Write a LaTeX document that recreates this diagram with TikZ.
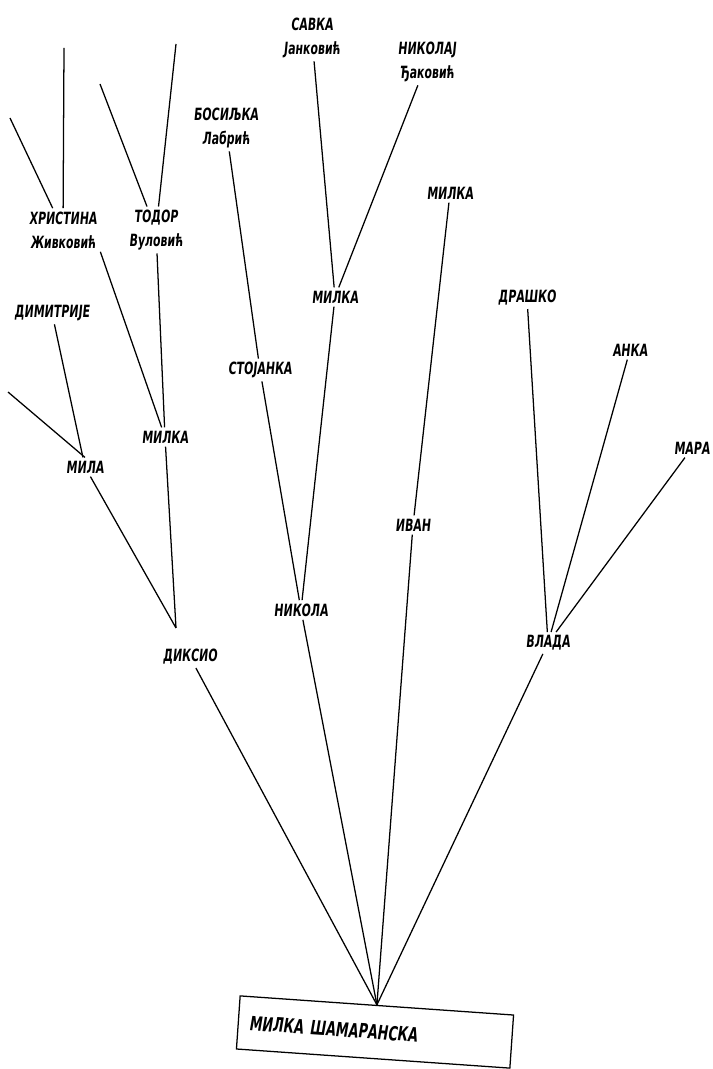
\documentclass[tikz,border=0pt]{standalone}
\usepackage{fontspec}
\setmainfont{DejaVu Sans Condensed}[FakeStretch=0.72,FakeSlant=0.1]
\usetikzlibrary{positioning,calc}

\begin{document}
\begin{tikzpicture}[x=0.025cm,y=-0.025cm,line width=0.9pt,
	person/.style={inner sep=2pt,align=center,font=\bfseries\fontsize{12}{17}\selectfont},
	rootbox/.style={draw,rotate=-4,inner sep=0pt,minimum width=6.85cm,minimum height=1.33cm,
		text width=6.3cm,align=left,font=\bfseries\fontsize{14}{16}\selectfont}
	]
	\useasboundingbox (0,0) rectangle (712,1069);

	\node[rootbox] (root) at (375,1032) {МИЛКА ШАМАРАНСКА};

	\node[person] (krsto) at (190,657) {ДИКСИО};
	\node[person] (nikola) at (301,610) {НИКОЛА};
	\node[person] (ivan) at (413,525) {ИВАН};
	\node[person] (vlada) at (548,643) {ВЛАДА};

	\node[person] (mila) at (85,467) {МИЛА};
	\node[person] (milkaL) at (165,437) {МИЛКА};
	\node[person] (dimitrije) at (52,313) {ДИМИТРИЈЕ};
	\node[person] (hristina) at (63,230) {ХРИСТИНА\\Живковић};
	\node[person] (todor) at (156,230) {ТОДОР\\Вуловић};

	\node[person] (stojanka) at (260,370) {СТОЈАНКА};
	\node[person] (milkaM) at (335,297) {МИЛКА};
	\node[person] (bosiljka) at (226,128) {БОСИЉКА\\Лабрић};
	\node[person] (savka) at (312,38) {САВКА\\Јанковић};
	\node[person] (nikolaj) at (427,62) {НИКОЛАЈ\\Ђаковић};

	\node[person] (milkaR) at (450,193) {МИЛКА};
	\node[person] (drasko) at (527,298) {ДРАШКО};
	\node[person] (anka) at (630,350) {АНКА};
	\node[person] (mara) at (692,448) {МАРА};

	% ends that run off the page
	\coordinate (h1) at (10,118);
	\coordinate (h2) at (64,48);
	\coordinate (t1) at (100,84);
	\coordinate (t2) at (176,44);
	\coordinate (m1) at (8,392);
	\coordinate (k0) at ($(krsto.north)+(-14,-18)$);

	\draw (root.north) -- (krsto);
	\draw (root.north) -- (nikola);
	\draw (root.north) -- (ivan);
	\draw (root.north) -- (vlada);

	\draw (k0) -- (mila);
	\draw (k0) -- (milkaL);
	\draw (mila) -- (dimitrije);
	\draw (mila.north) -- (m1);
	\draw (milkaL) -- (hristina.south east);
	\draw (milkaL) -- (todor);
	\draw (hristina) -- (h1);
	\draw (hristina) -- (h2);
	\draw (todor) -- (t1);
	\draw (todor) -- (t2);

	\draw (nikola) -- (stojanka);
	\draw (nikola) -- (milkaM);
	\draw (stojanka) -- (bosiljka);
	\draw (milkaM) -- (savka);
	\draw (milkaM) -- (nikolaj);

	\draw (ivan) -- (milkaR);

	\draw (vlada) -- (drasko);
	\draw (vlada) -- (anka);
	\draw (vlada) -- (mara);

\end{tikzpicture}
\end{document}
